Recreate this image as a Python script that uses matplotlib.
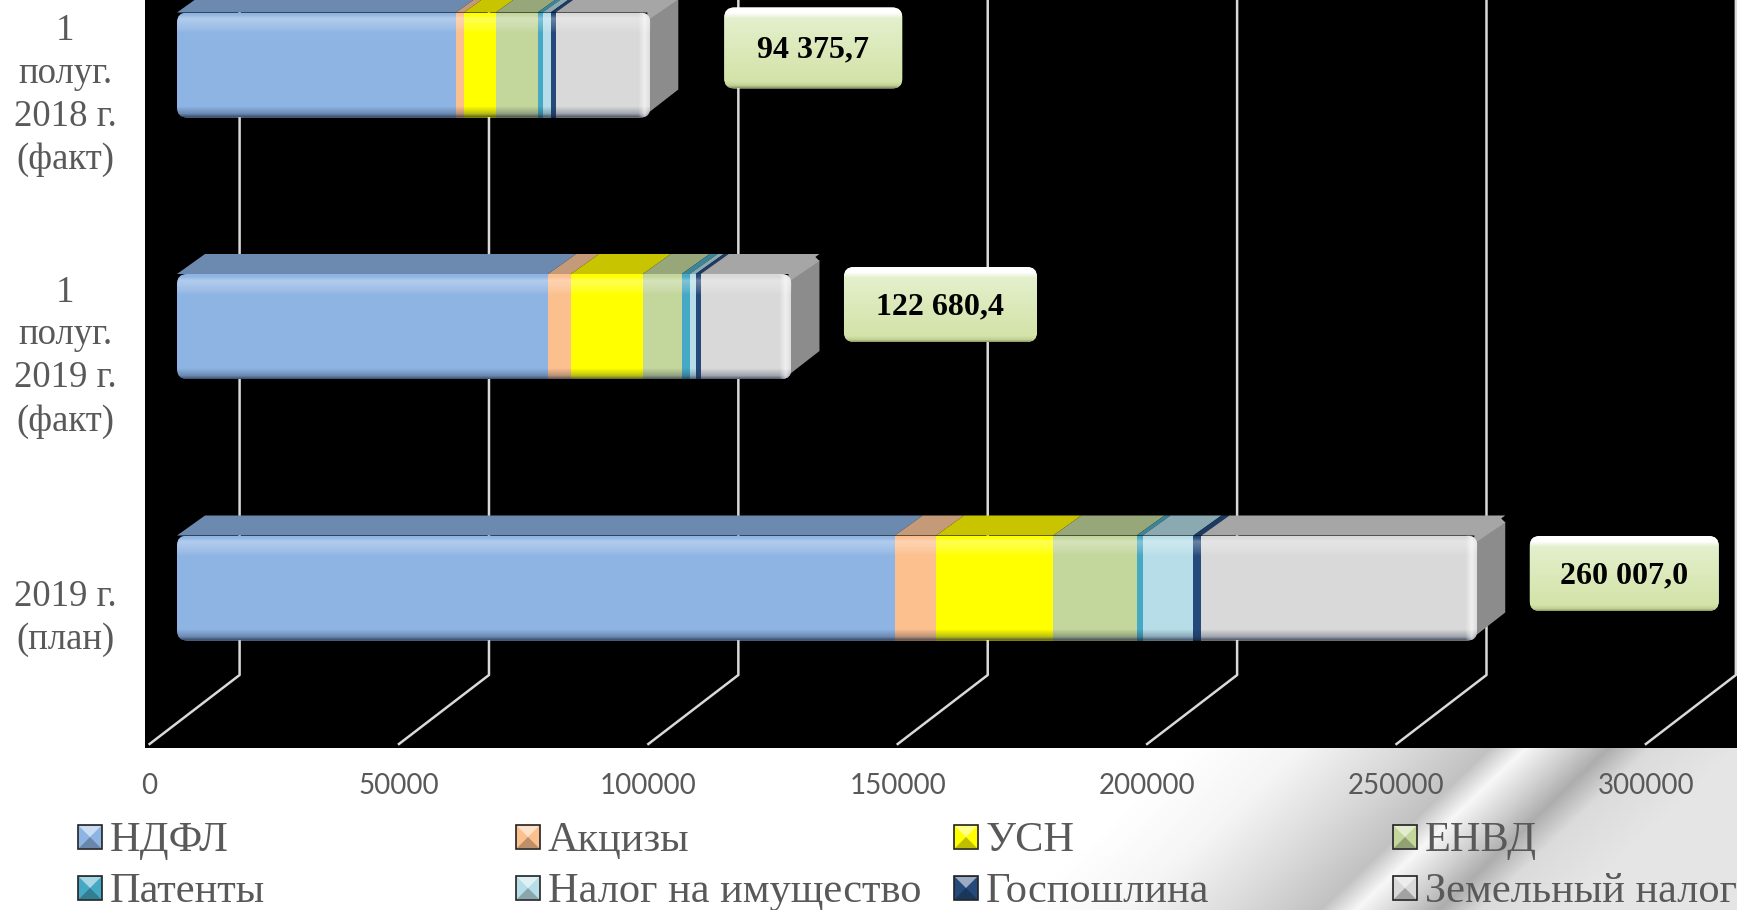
#!/usr/bin/env python3
"""Stacked 3D-look tax revenue bars, drawn on a black plot area."""

import matplotlib

matplotlib.use("Agg")
import matplotlib.pyplot as plt
import numpy as np
from matplotlib.patches import FancyBboxPatch, Polygon, Rectangle

categories = ["2019 г.\n(план)", "1\nполуг.\n2019 г.\n(факт)", "1\nполуг.\n2018 г.\n(факт)"]
series_names = [
    "НДФЛ", "Акцизы", "УСН", "ЕНВД",
    "Патенты", "Налог на имущество", "Госпошлина", "Земельный налог",
]
ndfl = [143900, 74400, 55900]
excise = [8300, 4600, 1600]
usn = [23500, 14400, 6400]
envd = [16700, 7800, 8400]
patents = [1200, 1600, 1000]
property_tax = [10200, 1200, 1600]
state_duty = [1600, 1000, 1000]
land_tax = [55300, 18200, 19000]
total_labels = ["260 007,0", "122 680,4", "94 375,7"]
tick_values = [0, 50000, 100000, 150000, 200000, 250000, 300000]

series = [ndfl, excise, usn, envd, patents, property_tax, state_duty, land_tax]
face_colors = ["#8EB4E3", "#FCBF8E", "#FFFF00", "#C3D69B", "#45A8C4", "#B7DEE8", "#24497A", "#D9D9D9"]
top_colors = ["#6C89AF", "#C49A78", "#C8C400", "#98A77A", "#3A8599", "#8AA9B0", "#1D3B62", "#A6A6A6"]

W, H = 1737, 910
X0_PX, UNITS_PER_PX = 177, 200.5
Y0_PX, ROW_PX = 588, 261.5
BAR_PX = 105
DEPTH_DX, DEPTH_DY = 28, 20
GRID_FRONT, GRID_BACK = -27.4, 62.6
FLOOR_FRONT_PX, FLOOR_BACK_PX = 744, 675
TEXT = "#595959"
SERIF = "Liberation Serif"


def ux(px):
    return px * UNITS_PER_PX


def uy(px):
    return px / ROW_PX


def alpha_gradient(stops, rgb):
    """Small vertical RGBA strip from (position, alpha) stops."""
    pos = np.linspace(0, 1, 200)
    alpha = np.interp(pos, [s[0] for s in stops], [s[1] for s in stops])
    img = np.zeros((200, 1, 4))
    img[..., :3] = rgb
    img[..., 3] = alpha[:, None]
    return img


def make_background():
    yy, xx = np.mgrid[0:H, 0:W]
    u = xx + (yy - 748) * 1.05
    level = np.interp(
        u,
        [0, 1190, 1300, 1400, 1489, 1525, 1570, 1608, 1650, 1737, 1900],
        [1, 1, 0.96, 0.86, 0.76, 0.97, 0.82, 0.68, 0.86, 0.90, 0.90],
    )
    return np.dstack([level, level, level])


fig = plt.figure(figsize=(W / 100, H / 100), dpi=100)

# pixel-space layer for the backdrop and legend
bg = fig.add_axes([0, 0, 1, 1], zorder=0)
bg.imshow(make_background(), extent=(0, W, H, 0), aspect="auto", interpolation="bilinear")
bg.set_xlim(0, W)
bg.set_ylim(H, 0)
bg.axis("off")

ax = fig.add_axes([145 / W, 1 - 748 / H, (W - 145) / W, 748 / H], zorder=2)
ax.set_facecolor("black")
for spine in ax.spines.values():
    spine.set_visible(False)

xlim = (ux(145 - X0_PX), ux(W - X0_PX))
ylim = (uy(Y0_PX - 748), uy(Y0_PX))

floor_front = uy(Y0_PX - FLOOR_FRONT_PX)
floor_back = uy(Y0_PX - FLOOR_BACK_PX)
for value in tick_values:
    xf, xb = value + ux(GRID_FRONT), value + ux(GRID_BACK)
    ax.plot([xf, xb, xb], [floor_front, floor_back, ylim[1]], color="#D9D9D9", lw=1.8, zorder=1)

y_positions = np.arange(len(categories))
half = uy(BAR_PX) / 2
dx, dy = ux(DEPTH_DX), uy(DEPTH_DY)
aspect = uy(1) / ux(1)

for row, y in enumerate(y_positions):
    left = 0
    end = sum(s[row] for s in series)
    clip = FancyBboxPatch(
        (0, y - half), end, 2 * half,
        boxstyle=f"round,pad=0,rounding_size={ux(10)}",
        mutation_aspect=aspect, transform=ax.transData, fc="none", ec="none",
    )
    ax.add_patch(clip)
    for vals, fc, tc in zip(series, face_colors, top_colors):
        v = vals[row]
        ax.add_patch(Polygon(
            [(left, y + half), (left + dx, y + half + dy), (left + v + dx, y + half + dy), (left + v, y + half)],
            fc=tc, ec="none", zorder=3,
        ))
        bar = ax.barh(y, v, height=2 * half, left=left, color=fc, edgecolor="none", zorder=4)
        bar[0].set_clip_path(clip)
        left += v
    # end cap
    ax.add_patch(Polygon(
        [(end - ux(3), y + half - uy(2)), (end + dx, y + half + dy - uy(6)), (end + dx, y - half + dy + uy(8)),
         (end - ux(8), y - half),
         (end - ux(3), y - half + uy(2))],
        fc="#8C8C8C", ec="none", zorder=3.5,
    ))
    ax.add_patch(Polygon(
        [(end - ux(3), y + half), (end + dx - ux(7), y + half + dy), (end + dx, y + half + dy - uy(7)),
         (end - ux(3), y + half - uy(8))],
        fc="#A6A6A6", ec="none", zorder=3.5,
    ))
    # bevel shading on the front face
    shade = ax.imshow(
        alpha_gradient([(0, 0.0), (0.02, 0.0), (0.06, 0.32), (0.15, 0.14), (0.20, 0.0), (1, 0.0)], (1, 1, 1)),
        extent=(0, end, y - half, y + half), aspect="auto", zorder=5,
    )
    shade.set_clip_path(clip)
    dark = ax.imshow(
        alpha_gradient([(0, 0.0), (0.90, 0.0), (0.97, 0.3), (1, 0.7)], (0.1, 0.15, 0.25)),
        extent=(0, end, y - half, y + half), aspect="auto", zorder=5,
    )
    dark.set_clip_path(clip)
    edge = np.ones((1, 200, 4))
    edge[..., 3] = np.interp(np.linspace(0, 1, 200), [0, 0.55, 0.8, 1], [0, 0.0, 0.6, 0.1])
    rim = ax.imshow(
        edge, extent=(end - ux(26), end, y - half, y + half), aspect="auto", zorder=5,
    )
    rim.set_clip_path(clip)

# data label boxes, placed relative to the end of each bar
label_dx = [147, 149, 163]
label_dy = [14.5, 22, 17]
label_w = [189, 193, 178]
label_h = [75, 75, 81]
for row, y in enumerate(y_positions):
    end = sum(s[row] for s in series)
    cx = end + ux(label_dx[row])
    cy = y + uy(label_dy[row])
    w, h = ux(label_w[row]), uy(label_h[row])
    box = FancyBboxPatch(
        (cx - w / 2, cy - h / 2), w, h,
        boxstyle=f"round,pad=0,rounding_size={ux(10)}",
        mutation_aspect=aspect, fc="#DDE9BD", ec="none", zorder=6,
    )
    ax.add_patch(box)
    grad = np.zeros((200, 1, 4))
    pos = np.linspace(0, 1, 200)
    for i, levels in enumerate([
        [1, 1, 0.89, 0.83, 0.76, 0.55],
        [1, 1, 0.94, 0.89, 0.82, 0.60],
        [1, 1, 0.80, 0.66, 0.58, 0.40],
    ]):
        grad[:, 0, i] = np.interp(pos, [0, 0.07, 0.14, 0.92, 0.97, 1], levels)
    grad[..., 3] = 1
    img = ax.imshow(grad, extent=(cx - w / 2, cx + w / 2, cy - h / 2, cy + h / 2), aspect="auto", zorder=6.5)
    img.set_clip_path(box)
    ax.text(
        cx, cy - uy(2), total_labels[row], ha="center", va="center", fontsize=23,
        fontweight="bold", family=SERIF, color="black", zorder=7,
    )

ax.set_xlim(*xlim)
ax.set_ylim(*ylim)
ax.set_xticks([v + ux(GRID_FRONT) for v in tick_values], [str(v) for v in tick_values])
ax.tick_params(axis="x", length=0, pad=18, labelsize=20, labelcolor=TEXT)
for label in ax.get_xticklabels():
    label.set_family("Lato")
ax.set_yticks(y_positions - uy(22), categories)
ax.tick_params(axis="y", length=0, pad=57.6, labelsize=26.5, labelcolor=TEXT)
for label in ax.get_yticklabels():
    label.set_family(SERIF)
    label.set_ha("center")
    label.set_linespacing(1.32)

# legend, two rows of four
legend_x = [78, 516, 954, 1393]
legend_y = [837, 888]
for i, name in enumerate(series_names):
    x = legend_x[i % 4]
    yc = legend_y[i // 4]
    s = 12
    bg.add_patch(Rectangle((x, yc - s), 2 * s, 2 * s, fc=face_colors[i], ec="#222222", lw=1.2))
    bg.add_patch(Polygon([(x + 1, yc - s + 1), (x + 2 * s - 1, yc - s + 1), (x + s, yc)], fc="white", alpha=0.55, ec="none"))
    bg.add_patch(Polygon([(x + 1, yc + s - 1), (x + 2 * s - 1, yc + s - 1), (x + s, yc)], fc="black", alpha=0.25, ec="none"))
    bg.text(x + 32, yc + 4, name, ha="left", va="center", fontsize=30.5, family=SERIF, color=TEXT)

fig.savefig("out.png", dpi=100)
